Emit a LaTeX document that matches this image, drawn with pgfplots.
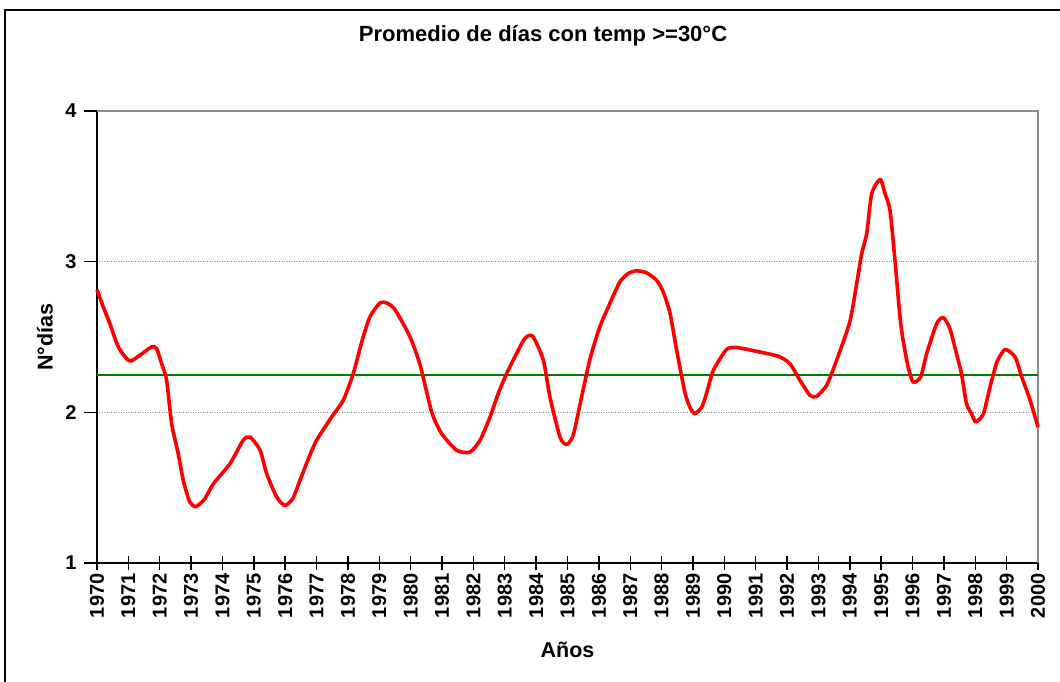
\documentclass[border=0pt]{standalone}
\usepackage{fontspec}
\setmainfont{Liberation Sans}
\usepackage{pgfplots}
\pgfplotsset{compat=1.18}
\definecolor{gridgray}{RGB}{140,140,140}
\definecolor{linered}{RGB}{255,0,0}
\definecolor{avggreen}{RGB}{0,128,0}
\begin{document}
\begin{tikzpicture}[x=1pt,y=1pt]
\useasboundingbox (0,0) rectangle (1060,681);
\draw[line width=2.5pt] (5,-20) -- (5,671) -- (1080,671);
\begin{axis}[
  at={(97pt,118pt)}, anchor=south west,
  width=941pt, height=452pt, scale only axis,
  xmin=1970, xmax=2000, ymin=1, ymax=4,
  xtick={1970,1971,...,2000}, ytick={1,2,3,4},
  axis x line*=bottom, axis y line*=left,
  axis line style={line width=1.7pt, black, -},
  tick align=center, major tick length=14pt,
  tick style={line width=1.4pt, black},
  ytick style={xshift=-6pt},
  ymajorgrids,
  grid style={dotted, gridgray, line width=0.9pt},
  /pgf/number format/assume math mode=true,
  /pgf/number format/1000 sep={},
  ticklabel style={font=\fontsize{20}{20}\selectfont\bfseries},
  xticklabel style={rotate=90, anchor=east},
  yticklabel style={xshift=-10pt},
  title={Promedio de días con temp >=30°C},
  title style={at={(axis description cs:0.474,1.153)}, anchor=center, font=\fontsize{22}{22}\selectfont\bfseries},
  xlabel={Años},
  xlabel style={at={(axis description cs:0.5,-0.1925)}, anchor=center, font=\fontsize{21.5}{21.5}\selectfont\bfseries},
  ylabel={N°días},
  ylabel style={at={(axis description cs:-0.0553,0.5)}, anchor=center, font=\fontsize{21.5}{21.5}\selectfont\bfseries},
  clip=false,
]
\draw[gridgray, line width=1.6pt] (axis cs:1970,4) -- (axis cs:2000,4) -- (axis cs:2000,1);
\addplot[avggreen, line width=2pt, forget plot] coordinates {(1970,2.245) (2000,2.245)};
\addplot[linered, line width=3.6pt, smooth, tension=0.4, line join=round] coordinates {
(1970.00,2.815) (1970.20,2.700) (1970.41,2.589) (1970.68,2.434) (1971.03,2.341)
(1971.37,2.379) (1971.74,2.434) (1971.90,2.423) (1972.06,2.323) (1972.22,2.213)
(1972.38,1.925) (1972.59,1.725) (1972.75,1.548) (1972.96,1.404) (1973.16,1.375)
(1973.44,1.427) (1973.71,1.526) (1974.24,1.659) (1974.66,1.814) (1974.88,1.836)
(1975.20,1.748) (1975.41,1.593) (1975.73,1.437) (1975.99,1.382) (1976.24,1.427)
(1976.47,1.548) (1976.74,1.692) (1977.00,1.814) (1977.48,1.969) (1977.85,2.080)
(1978.17,2.257) (1978.44,2.467) (1978.70,2.633) (1979.02,2.726) (1979.23,2.726)
(1979.50,2.682) (1979.98,2.500) (1980.30,2.315) (1980.67,2.002) (1980.99,1.858)
(1981.47,1.748) (1981.89,1.736) (1982.21,1.814) (1982.53,1.969) (1982.79,2.124)
(1983.06,2.257) (1983.32,2.367) (1983.64,2.490) (1983.89,2.505) (1984.23,2.346)
(1984.44,2.102) (1984.76,1.836) (1984.97,1.787) (1985.18,1.847) (1985.45,2.102)
(1985.72,2.357) (1986.03,2.567) (1986.35,2.722) (1986.67,2.866) (1986.94,2.922)
(1987.20,2.939) (1987.52,2.926) (1987.84,2.877) (1988.05,2.800) (1988.27,2.656)
(1988.48,2.412) (1988.74,2.135) (1988.90,2.035) (1989.06,1.991) (1989.28,2.035)
(1989.43,2.124) (1989.65,2.279) (1990.07,2.417) (1990.39,2.430) (1990.98,2.407)
(1991.72,2.372) (1992.09,2.323) (1992.41,2.213) (1992.73,2.113) (1992.94,2.106)
(1993.26,2.179) (1993.58,2.346) (1994.00,2.600) (1994.22,2.855) (1994.38,3.054)
(1994.54,3.187) (1994.70,3.453) (1994.97,3.546) (1995.12,3.453) (1995.28,3.342)
(1995.44,3.010) (1995.60,2.633) (1995.70,2.478) (1995.86,2.301) (1996.02,2.201)
(1996.26,2.235) (1996.45,2.390) (1996.77,2.589) (1996.98,2.629) (1997.19,2.556)
(1997.40,2.390) (1997.56,2.257) (1997.72,2.058) (1997.88,1.991) (1998.02,1.936)
(1998.26,1.991) (1998.47,2.168) (1998.69,2.333) (1998.95,2.417) (1999.27,2.367)
(1999.48,2.235) (1999.75,2.080) (2000.00,1.902)
};
\end{axis}
\end{tikzpicture}
\end{document}
